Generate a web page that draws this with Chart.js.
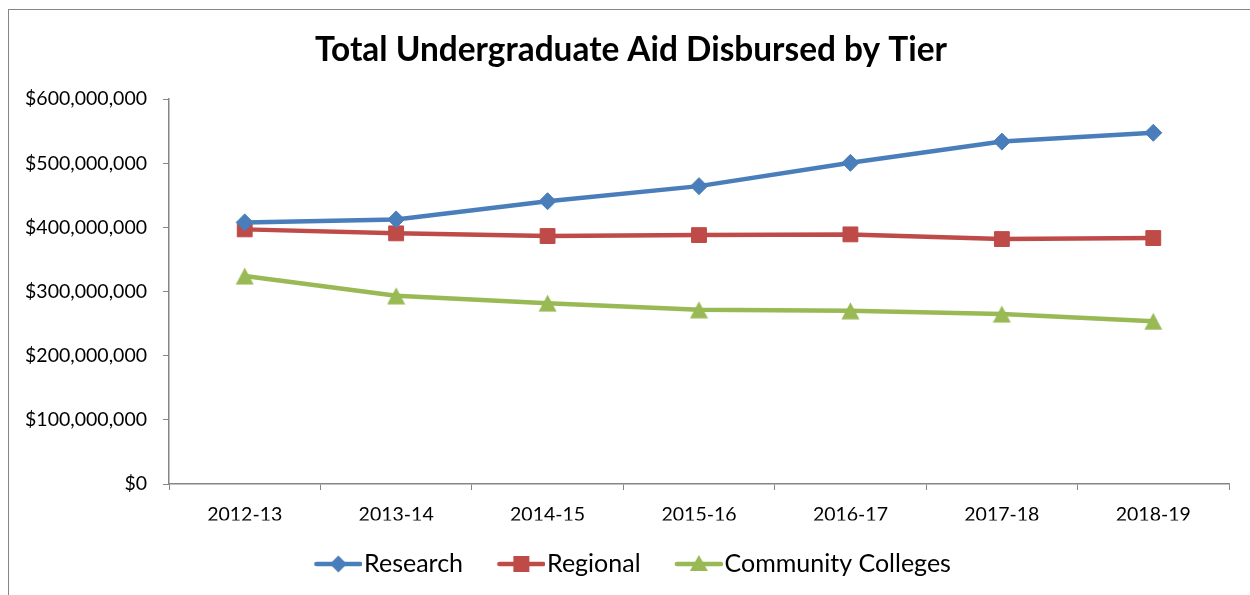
<!DOCTYPE html>
<html>
<head>
<meta charset="utf-8">
<script src="https://cdn.jsdelivr.net/npm/chart.js@4.4.1/dist/chart.umd.min.js"></script>
<style>
  html, body { margin: 0; padding: 0; background: #fff; overflow: hidden; }
  #wrap { position: relative; width: 1250px; height: 595px; }
  #frame { position: absolute; left: 8px; top: 9px; width: 1300px; height: 700px;
           border: 1px solid #868686; pointer-events: none; }
  canvas { position: absolute; left: 0; top: 0; }
</style>
</head>
<body>
<div id="wrap">
  <canvas id="chart" width="1250" height="595"></canvas>
  <div id="frame"></div>
</div>
<script>
const years = ['2012-13', '2013-14', '2014-15', '2015-16', '2016-17', '2017-18', '2018-19'];
const research = [407800000, 412400000, 440800000, 464300000, 500600000, 533700000, 547500000];
const regional = [396900000, 390700000, 386500000, 388000000, 389100000, 381800000, 383400000];
const community = [324100000, 293300000, 281900000, 271600000, 270000000, 264800000, 253500000];
const yTicks = [0, 100000000, 200000000, 300000000, 400000000, 500000000, 600000000];

const blue = '#4A7EBB';
const red = '#BE4B48';
const green = '#98B954';
const axisGray = '#868686';
const fontFamily = 'Lato, "Open Sans", sans-serif';

// line + marker icons for the legend, like Excel draws them.
// the icon sits 14px into a 62px canvas so it lines up with the text
function legendIcon(color, shape) {
    const c = document.createElement('canvas');
    c.width = 62;
    c.height = 22;
    const g = c.getContext('2d');
    const x0 = 14, cx = x0 + 24, cy = 11;
    g.strokeStyle = color;
    g.fillStyle = color;
    g.lineWidth = 4.5;
    g.lineCap = 'round';
    g.beginPath();
    g.moveTo(x0 + 2, cy);
    g.lineTo(x0 + 46, cy);
    g.stroke();
    g.beginPath();
    if (shape === 'diamond') {
        g.moveTo(cx, cy - 8.5); g.lineTo(cx + 8.5, cy); g.lineTo(cx, cy + 8.5); g.lineTo(cx - 8.5, cy);
    } else if (shape === 'square') {
        g.rect(cx - 8, cy - 8, 16, 16);
    } else {
        g.moveTo(cx, cy - 9); g.lineTo(cx + 9, cy + 7); g.lineTo(cx - 9, cy + 7);
    }
    g.closePath();
    g.fill();
    return c;
}

// Excel centres the triangle's box on the point, Chart.js centres its centroid
function triangleMarker(color) {
    const c = document.createElement('canvas');
    c.width = 19;
    c.height = 18;
    const g = c.getContext('2d');
    g.fillStyle = color;
    g.beginPath();
    g.moveTo(9.5, 0.5);
    g.lineTo(18.5, 17.5);
    g.lineTo(0.5, 17.5);
    g.closePath();
    g.fill();
    return c;
}

const icons = [legendIcon(blue, 'diamond'), legendIcon(red, 'square'), legendIcon(green, 'triangle')];

const ctx = document.getElementById('chart').getContext('2d');
new Chart(ctx, {
    type: 'line',
    data: {
        labels: years,
        datasets: [
            {
                label: 'Research',
                data: research,
                borderColor: blue,
                backgroundColor: blue,
                borderWidth: 4.5,
                pointStyle: 'rectRot',
                pointRadius: 8.5,
                pointBorderWidth: 1
            },
            {
                label: 'Regional',
                data: regional,
                borderColor: red,
                backgroundColor: red,
                borderWidth: 4.5,
                pointStyle: 'rect',
                pointRadius: 10.5,
                pointBorderWidth: 1
            },
            {
                label: 'Community Colleges',
                data: community,
                borderColor: green,
                backgroundColor: green,
                borderWidth: 4.5,
                pointStyle: triangleMarker(green),
                pointRadius: 10,
                pointBorderWidth: 0
            }
        ]
    },
    options: {
        responsive: false,
        animation: false,
        events: [],
        layout: { padding: { left: 20, right: 8, top: 0, bottom: 8.5 } },
        elements: { line: { tension: 0 } },
        plugins: {
            title: {
                display: true,
                text: 'Total Undergraduate Aid Disbursed by Tier',
                color: '#000',
                font: { family: fontFamily, size: 33.4, weight: 'bold' },
                padding: { top: 30, bottom: 29 }
            },
            legend: {
                display: true,
                position: 'bottom',
                labels: {
                    color: '#000',
                    font: { family: fontFamily, size: 25 },
                    usePointStyle: true,
                    pointStyleWidth: 40.5,
                    padding: 31,
                    generateLabels: function (chart) {
                        return chart.data.datasets.map((ds, i) => ({
                            text: ds.label,
                            fontColor: '#000',
                            pointStyle: icons[i],
                            lineWidth: 0,
                            hidden: false,
                            datasetIndex: i
                        }));
                    }
                }
            },
            tooltip: { enabled: false }
        },
        scales: {
            x: {
                offset: true,
                afterFit: function (scale) { scale.height = 36.5; },
                grid: {
                    offset: true,
                    drawOnChartArea: false,
                    drawTicks: true,
                    tickLength: 6,
                    tickColor: axisGray
                },
                border: { color: axisGray, width: 1.5 },
                ticks: {
                    color: '#000',
                    font: { family: fontFamily, size: 19.5 },
                    padding: 13,
                    maxRotation: 0
                }
            },
            y: {
                min: 0,
                max: 600000000,
                afterFit: function (scale) { scale.width = 149; },
                afterBuildTicks: function (scale) {
                    scale.ticks = yTicks.map(v => ({ value: v }));
                },
                grid: {
                    drawOnChartArea: false,
                    drawTicks: true,
                    tickLength: 6,
                    tickColor: axisGray
                },
                border: { color: axisGray, width: 1.5 },
                ticks: {
                    color: '#000',
                    font: { family: fontFamily, size: 19.5 },
                    padding: 16,
                    callback: function (value) {
                        return '$' + value.toLocaleString('en-US');
                    }
                }
            },
            // empty right-hand strip so the title and legend centre like the original
            spacer: {
                type: 'linear',
                position: 'right',
                display: true,
                afterFit: function (scale) { scale.width = 13; },
                grid: { display: false },
                border: { display: false },
                ticks: { display: false }
            }
        }
    }
});
</script>
</body>
</html>
